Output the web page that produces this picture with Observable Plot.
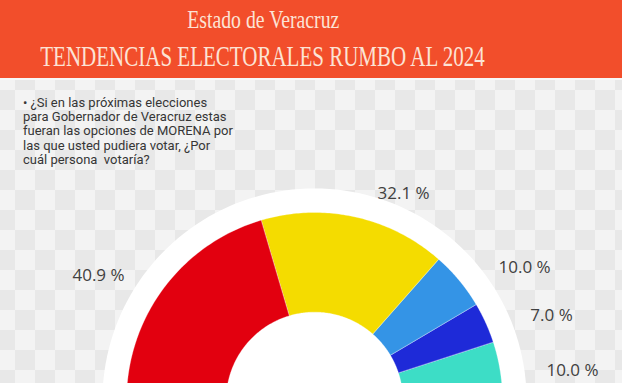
<!DOCTYPE html>
<html>
<head>
<meta charset="utf-8">
<script src="https://cdn.jsdelivr.net/npm/d3@7"></script>
<script src="https://cdn.jsdelivr.net/npm/@observablehq/plot@0.6"></script>
<style>
html, body { margin: 0; padding: 0; width: 622px; height: 383px; overflow: hidden; }
body {
  position: relative;
  background-color: #f3f3f3;
  background-image: conic-gradient(#e8e8e8 25%, transparent 0 50%, #e8e8e8 0 75%, transparent 0);
  background-size: 40px 40px;
  background-position: 35px 30px;
}
#banner {
  position: absolute; left: 0; top: 0; width: 622px; height: 78px; overflow: hidden;
  background: #F24E2B; border-bottom: 2px solid #f7f7f7;
  font-family: "Liberation Serif", "Times New Roman", serif; color: #FCE3D5;
}
#banner .l { position: absolute; left: -237px; width: 1000px; text-align: center; white-space: nowrap; }
#banner .l span { display: inline-block; }
#t1 { top: 5px; font-size: 25px; line-height: 30px; }
#t1 span { transform: scaleX(0.79); }
#t2 { top: 38px; font-size: 30px; line-height: 36px; }
#t2 span { transform: scaleX(0.70); }
#question {
  position: absolute; left: 23px; top: 96px;
  font-family: Roboto, sans-serif; font-size: 13px; line-height: 14.2px; color: #363636;
  white-space: nowrap; z-index: 2;
}
#chart { position: absolute; left: 0; top: 80px; width: 622px; height: 303px; }
</style>
</head>
<body>
<div id="banner">
  <div class="l" id="t1"><span>Estado de Veracruz</span></div>
  <div class="l" id="t2"><span>TENDENCIAS ELECTORALES RUMBO AL 2024</span></div>
</div>
<div id="chart"></div>
<div id="question">• ¿Si en las próximas elecciones<br>para Gobernador de Veracruz estas<br>fueran las opciones de MORENA por<br>las que usted pudiera votar, ¿Por<br>cuál persona&nbsp; votaría?</div>
<script>
// ---- data ----
const categories = ["Opción 1", "Opción 2", "Opción 3", "Opción 4", "Opción 5"];
const values = [40.9, 32.1, 10.0, 7.0, 10.0];
const labels = ["40.9 %", "32.1 %", "10.0 %", "7.0 %", "10.0 %"];

// ---- styles / layout ----
const colors = ["#E2000F", "#F4DC00", "#3494E6", "#1E2AD8", "#3DDDC6"];
const innerR = 0.47, outerR = 1.0, ringR = 1.128;
const labelNudge = [-6.7, 10.8, 7.3, 4.6, 2.4];       // degrees off slice middle
const labelRadius = [1.328, 1.197, 1.322, 1.339, 1.381];

const total = d3.sum(values);
const toRad = a => a * Math.PI / 180;
const polar = (r, a) => ({x: r * Math.sin(toRad(a)), y: r * Math.cos(toRad(a))});

// slice polygons (half donut from -90° to +90°)
const slicePts = [];
const labelPts = [];
let cum = 0;
categories.forEach((name, i) => {
  const a0 = -90 + 180 * cum / total;
  cum += values[i];
  const a1 = -90 + 180 * cum / total;
  const n = 80;
  for (let k = 0; k <= n; k++) slicePts.push({name, ...polar(outerR, a0 + (a1 - a0) * k / n)});
  for (let k = n; k >= 0; k--) slicePts.push({name, ...polar(innerR, a0 + (a1 - a0) * k / n)});
  const mid = (a0 + a1) / 2 + labelNudge[i];
  labelPts.push({name, text: labels[i], ...polar(labelRadius[i], mid)});
});
const ringPts = d3.range(0, 361, 2).map(a => polar(ringR, a));

const plot = Plot.plot({
  width: 622, height: 303,
  margin: 0,
  style: {background: "transparent", overflow: "hidden"},
  x: {domain: [-1.670, 1.638], axis: null},
  y: {domain: [0.0904, 1.702], axis: null},
  color: {domain: categories, range: colors},
  marks: [
    Plot.line(ringPts, {x: "x", y: "y", fill: "white", stroke: "none", curve: "linear-closed"}),
    Plot.line(slicePts, {x: "x", y: "y", z: "name", fill: "name", stroke: "#ffffff", strokeWidth: 0.5, strokeOpacity: 0.6, curve: "linear-closed"}),
    Plot.text(labelPts, {x: "x", y: "y", text: "text", fontSize: 17, fill: "#404040", fontFamily: "'Open Sans', sans-serif"})
  ]
});
document.getElementById("chart").appendChild(plot);
</script>
</body>
</html>
